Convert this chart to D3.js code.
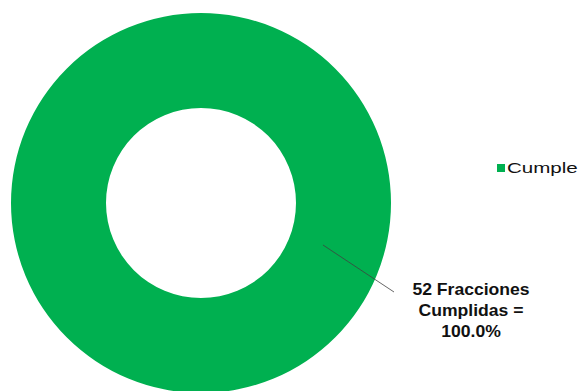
<!DOCTYPE html>
<html><head><meta charset="utf-8">
<script src="https://cdn.jsdelivr.net/npm/d3@7"></script>
<style>body{margin:0;background:#fff}svg{display:block}</style>
</head><body>
<script>
const categories = ["Cumple"];
const values = [52];
const percents = ["100.0%"];
const labelLines = ["52 Fracciones", "Cumplidas =", "100.0%"];
const colors = ["#00B050"];

const W = 581, H = 391;
const cx = 201, cy = 203, rOuter = 190, rInner = 95;
const svg = d3.select("body").append("svg").attr("width", W).attr("height", H);

const color = d3.scaleOrdinal().domain(categories).range(colors);
const pie = d3.pie().sort(null).value(d => d.value);
const data = pie(categories.map((c, i) => ({cat: c, value: values[i], pct: percents[i]})));
const arc = d3.arc().innerRadius(rInner).outerRadius(rOuter);

const g = svg.append("g").attr("transform", `translate(${cx},${cy})`);
g.selectAll("path").data(data).join("path")
  .attr("d", arc).attr("fill", d => color(d.data.cat));

// leader line and label
const ang = 109 * Math.PI / 180;
const rStart = 129;
const p0 = [Math.sin(ang) * rStart, -Math.cos(ang) * rStart];
const labelX = 471 - cx, labelY = 295 - cy;
const p1 = [394 - cx, 292 - cy];
g.append("line").attr("x1", p0[0]).attr("y1", p0[1]).attr("x2", p1[0]).attr("y2", p1[1])
  .attr("stroke", "#404040").attr("stroke-width", 0.8);

const lbl = g.append("text").attr("font-family", "Liberation Sans, Arial, sans-serif")
  .attr("font-weight", "bold").attr("font-size", 16).attr("fill", "#111")
  .attr("text-anchor", "middle")
  .attr("transform", `translate(${labelX},${labelY}) scale(1.1,1)`);
lbl.selectAll("tspan").data(labelLines).join("tspan")
  .attr("x", 0).attr("dy", (d, i) => i === 0 ? 0 : 21).text(d => d);

// legend
const leg = svg.append("g").attr("transform", "translate(497,164)");
leg.selectAll("rect").data(categories).join("rect")
  .attr("x", 0).attr("y", 0).attr("width", 8).attr("height", 8).attr("fill", d => color(d));
leg.selectAll("text").data(categories).join("text")
  .attr("font-family", "Liberation Sans, Arial, sans-serif").attr("font-size", 15).attr("fill", "#111")
  .attr("transform", "translate(10,9) scale(1.37,1)").text(d => d);
</script>
</body></html>
